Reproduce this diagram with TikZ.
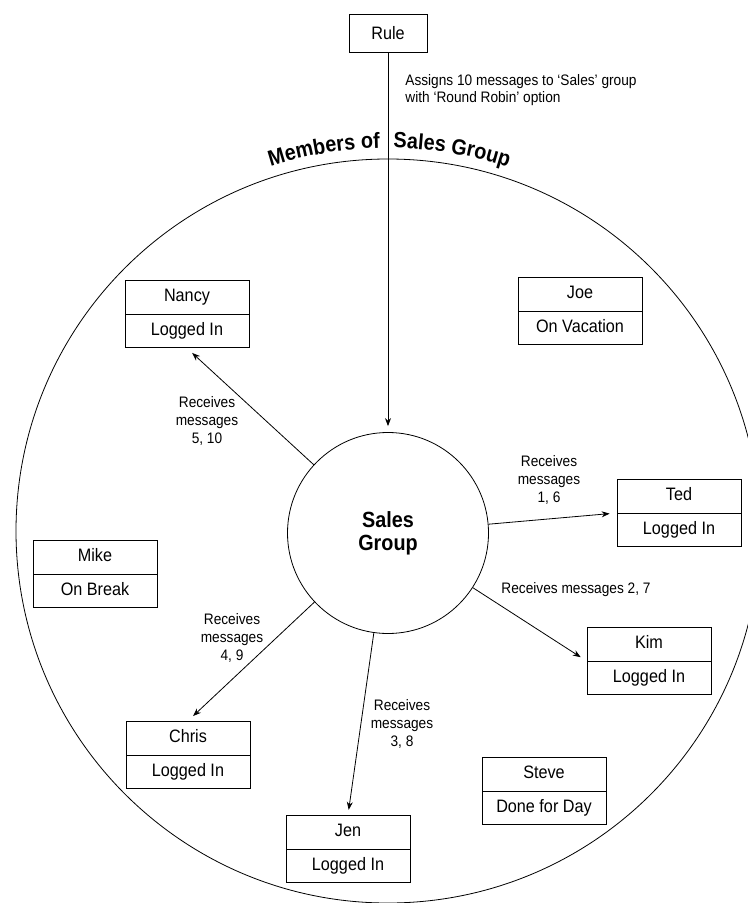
\documentclass[tikz,border=0pt]{standalone}
\usepackage{fontspec}
\setmainfont{Liberation Sans}[FakeStretch=0.9]
\usetikzlibrary{arrows.meta, positioning, shapes.multipart, decorations.text}

\begin{document}
\begin{tikzpicture}[
	x=0.5pt, y=-0.5pt,
	MemberBox/.style={rectangle split, rectangle split parts=2, draw,
		minimum width=62pt, inner ysep=2.75pt, font=\fontsize{9}{11}\selectfont},
	GroupNode/.style={circle, draw, minimum size=100.5pt, align=center,
		font=\fontsize{11}{11.5}\selectfont\bfseries},
	RuleBox/.style={draw, minimum width=39pt, minimum height=19pt,
		font=\fontsize{9}{11}\selectfont},
	MsgLabel/.style={align=center, inner sep=0pt, font=\fontsize{7.6}{8.8}\selectfont},
	MsgArrow/.style={-{Stealth[length=4pt, width=3pt]}, shorten >=3.5pt}
	]

\useasboundingbox (0,0) rectangle (748,903);
\clip (0,0) rectangle (748,903);

% outer ring and its title
\draw (388,531) circle[radius=372];
\path [decorate, decoration={text along path, text align=right,
	text={|\fontsize{11}{12}\selectfont\bfseries|Members of}}]
	(388,531) ++(-135:383) arc[start angle=-135, end angle=-91.2, radius=383];
\path [decorate, decoration={text along path, text align=left,
	text={|\fontsize{11}{12}\selectfont\bfseries|Sales Group}}]
	(388,531) ++(-89.2:383) arc[start angle=-89.2, end angle=-45, radius=383];

\node [RuleBox] (rule) at (388,33) {Rule};
\node [MsgLabel, anchor=west, align=left] (assign) at (405,90)
	{Assigns 10 messages to ‘Sales’ group\\with ‘Round Robin’ option};
\node [GroupNode] (sales) at (388,533) {Sales\\Group};

\node [MemberBox] (nancy) at (187,314) {\strut Nancy\nodepart{two}\strut Logged In};
\node [MemberBox] (joe) at (580,311) {\strut Joe\nodepart{two}\strut On Vacation};
\node [MemberBox] (ted) at (679,513) {\strut Ted\nodepart{two}\strut Logged In};
\node [MemberBox] (kim) at (649,661) {\strut Kim\nodepart{two}\strut Logged In};
\node [MemberBox] (mike) at (95,574) {\strut Mike\nodepart{two}\strut On Break};
\node [MemberBox] (chris) at (188,755) {\strut Chris\nodepart{two}\strut Logged In};
\node [MemberBox] (jen) at (348,849) {\strut Jen\nodepart{two}\strut Logged In};
\node [MemberBox] (steve) at (544,791) {\strut Steve\nodepart{two}\strut Done for Day};

\node [MsgLabel] (lblnancy) at (207,421) {Receives\\messages\\5, 10};
\node [MsgLabel] (lblted) at (549,480) {Receives\\messages\\1, 6};
\node [MsgLabel] (lblkim) at (576,590) {Receives messages 2, 7};
\node [MsgLabel] (lbljen) at (402,724) {Receives\\messages\\3, 8};
\node [MsgLabel] (lblchris) at (232,638) {Receives\\messages\\4, 9};

\draw [MsgArrow, shorten >=3pt] (rule) -- (sales);
\draw [MsgArrow] (sales) -- (nancy.south);
\draw [MsgArrow] (sales) -- (ted.west);
\draw [MsgArrow] (sales) -- (kim.west);
\draw [MsgArrow, shorten >=2.5pt] (sales) -- (jen.north);
\draw [MsgArrow] (sales) -- (chris.north);

\end{tikzpicture}
\end{document}
